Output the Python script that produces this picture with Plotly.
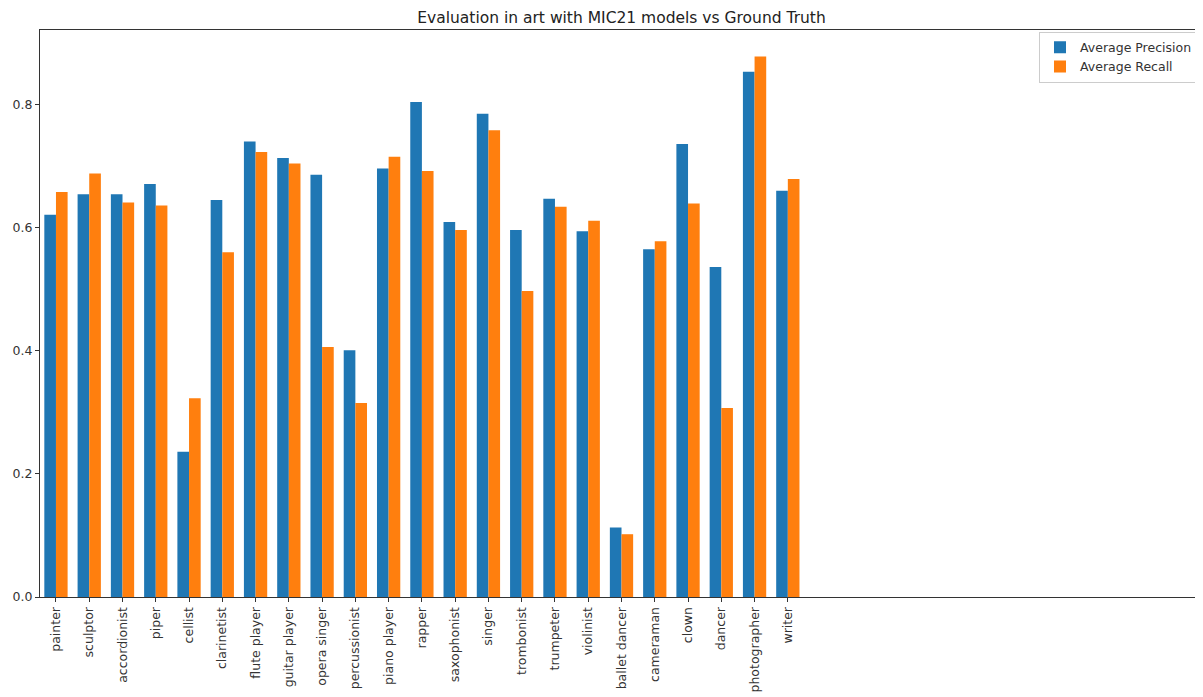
import plotly.graph_objects as go

categories = ["painter", "sculptor", "accordionist", "piper", "cellist", "clarinetist",
              "flute player", "guitar player", "opera singer", "percussionist", "piano player",
              "rapper", "saxophonist", "singer", "trombonist", "trumpeter", "violinist",
              "ballet dancer", "cameraman", "clown", "dancer", "photographer", "writer"]
avg_precision = [0.621, 0.654, 0.654, 0.671, 0.236, 0.645, 0.740, 0.713, 0.686, 0.401, 0.696,
                 0.804, 0.609, 0.785, 0.596, 0.647, 0.594, 0.113, 0.565, 0.736, 0.536, 0.853, 0.660]
avg_recall = [0.658, 0.688, 0.641, 0.636, 0.323, 0.560, 0.723, 0.704, 0.406, 0.315, 0.715,
              0.692, 0.596, 0.758, 0.497, 0.634, 0.611, 0.102, 0.578, 0.639, 0.307, 0.878, 0.679]
y_ticks = [0.0, 0.2, 0.4, 0.6, 0.8]

x = list(range(len(categories)))

fig = go.Figure()
fig.add_trace(go.Bar(x=x, y=avg_precision, name="Average Precision",
                     marker=dict(color="#1f77b4", line=dict(width=0))))
fig.add_trace(go.Bar(x=x, y=avg_recall, name="Average Recall",
                     marker=dict(color="#ff7f0e", line=dict(width=0))))

font_family = "DejaVu Sans"
# page body has an 8px margin, so the figure is sized/offset to compensate
fig.update_layout(
    width=1195, height=689,
    margin=dict(l=32, r=0, t=21.5, b=99.5),
    paper_bgcolor="white", plot_bgcolor="white",
    barmode="group", bargap=0.3, bargroupgap=0,
    title=dict(text="Evaluation in art with MIC21 models vs Ground Truth",
               x=0.5134, xanchor="center", y=0.9855, yanchor="middle",
               font=dict(family=font_family, size=15.5, color="#222")),
    font=dict(family=font_family, size=12.5, color="#333"),
    legend=dict(x=0.9957, xanchor="right", y=0.997, yanchor="top",
                bgcolor="rgba(255,255,255,0.8)", bordercolor="#cccccc", borderwidth=1,
                font=dict(family=font_family, size=12.5, color="#333"),
                tracegroupgap=2),
    showlegend=True,
)
fig.update_xaxes(
    range=[-0.48, 34.48], tickmode="array", tickvals=x, ticktext=categories,
    tickangle=-90, ticks="outside", ticklen=4, tickcolor="#333",
    showline=True, linecolor="#333", linewidth=1, mirror=True,
    showgrid=False, zeroline=False,
    tickfont=dict(family=font_family, size=12.5, color="#333"),
)
fig.update_yaxes(
    range=[0, 0.921], tickmode="array", tickvals=y_ticks,
    ticktext=[f"{v:.1f}" for v in y_ticks],
    ticks="outside", ticklen=4, tickcolor="#333",
    showline=True, linecolor="#333", linewidth=1,
    showgrid=False, zeroline=False,
    tickfont=dict(family=font_family, size=12.5, color="#333"),
)

fig.write_html("out.html")
